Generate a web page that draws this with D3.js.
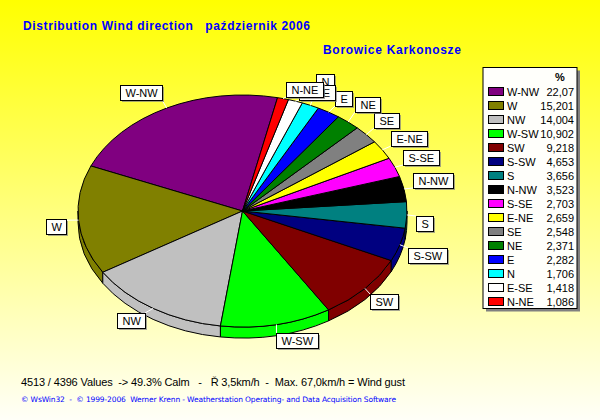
<!DOCTYPE html>
<html><head><meta charset="utf-8">
<script src="https://cdn.jsdelivr.net/npm/d3@7"></script>
<style>html,body{margin:0;padding:0;background:#fff}svg{display:block}text{white-space:pre}</style>
</head><body><svg id="c" width="600" height="420"></svg>
<script>
const categories=["W-NW","W","NW","W-SW","SW","S-SW","S","N-NW","S-SE","E-NE","SE","NE","E","N","E-SE","N-NE"];
const values=[22.07,15.201,14.004,10.902,9.218,4.653,3.656,3.523,2.703,2.659,2.548,2.371,2.282,1.706,1.418,1.086];
const valueLabels=["22,07","15,201","14,004","10,902","9,218","4,653","3,656","3,523","2,703","2,659","2,548","2,371","2,282","1,706","1,418","1,086"];
const colors=["#800080","#808000","#c0c0c0","#00ff00","#800000","#000080","#008080","#000000","#ff00ff","#ffff00","#808080","#008000","#0000ff","#00ffff","#ffffff","#ff0000"];
// label box offset from the slice's rim point
const labelDx=[-47,-33,-36,0,5,8,9,9,8,9,8,7,6,5.5,3.5,3];
const labelDy=[-23,-1,5,8,6,3,1,-16,-17,-19,-22,-25,-21,-31,-16,-16.6];

const svg=d3.select("#c");
const defs=svg.append("defs");
const grad=defs.append("linearGradient").attr("id","bg").attr("x1",0).attr("y1",0).attr("x2",0).attr("y2",1);
grad.append("stop").attr("offset","0").attr("stop-color","#ffff00");
grad.append("stop").attr("offset","1").attr("stop-color","#fffff8");
svg.append("rect").attr("width",600).attr("height",420).attr("fill","url(#bg)");

const F="'Liberation Sans',Arial,sans-serif";
svg.append("text").attr("x",23).attr("y",30).attr("font-family",F).attr("font-weight","bold").attr("font-size",12).attr("fill","#0000ff").attr("textLength",287).text("Distribution Wind direction   październik 2006");
svg.append("text").attr("x",323).attr("y",54).attr("font-family",F).attr("font-weight","bold").attr("font-size",12).attr("fill","#0000ff").attr("textLength",138).text("Borowice Karkonosze");
svg.append("text").attr("x",21).attr("y",386).attr("font-family",F).attr("font-size",11).attr("fill","#000").attr("textLength",384).text("4513 / 4396 Values  -> 49.3% Calm   -   Ř 3,5km/h  -  Max. 67,0km/h = Wind gust");
svg.append("text").attr("x",21).attr("y",402).attr("font-family","'DejaVu Sans',sans-serif").attr("font-size",7.5).attr("fill","#0000ff").attr("textLength",375).text("© WsWin32  -  © 1999-2006  Werner Krenn - Weatherstation Operating- and Data Acquisition Software");

// Pie
const cx=242.5,cy=211,rx=164.5,ry=116,depth=11;
const start=77.7*Math.PI/180;
const pie=d3.pie().value(d=>d).sort(null).startAngle(0).endAngle(2*Math.PI);
const arcs=pie(values).map((a,i)=>({i,a0:start+a.startAngle,a1:start+a.endAngle}));
const ex=t=>cx+rx*Math.cos(t), ey=t=>cy-ry*Math.sin(t);

const g=svg.append("g");
const sideParts=[];
arcs.forEach(d=>{
  [0,2*Math.PI].forEach(k=>{
    const lo=Math.max(d.a0,Math.PI+k), hi=Math.min(d.a1,2*Math.PI+k);
    if(hi>lo) sideParts.push({i:d.i,lo,hi});
  });
});
function rimArc(t0,t1,dy,sweep,move){
  return `${move?"M":"L"}${ex(t0)},${ey(t0)+dy}A${rx},${ry} 0 ${Math.abs(t1-t0)>Math.PI?1:0} ${sweep} ${ex(t1)},${ey(t1)+dy}`;
}
g.selectAll("path.side").data(sideParts).join("path").attr("class","side")
 .attr("d",d=>rimArc(d.lo,d.hi,depth,0,true)+rimArc(d.hi,d.lo,0,1,false)+"Z")
 .attr("fill",d=>colors[d.i]).attr("stroke","#000").attr("stroke-width",1);
g.selectAll("path.top").data(arcs).join("path").attr("class","top")
 .attr("d",d=>`M${cx},${cy}`+rimArc(d.a0,d.a1,0,0,false)+"Z")
 .attr("fill",d=>colors[d.i]).attr("stroke","#000").attr("stroke-width",1);

// Labels
const lab=svg.append("g").attr("font-family",F).attr("font-size",11);
arcs.forEach(d=>{
  const m=(d.a0+d.a1)/2, ax=ex(m), ay=ey(m);
  const bx=Math.round(ax+labelDx[d.i]), by=Math.round(ay+labelDy[d.i]);
  const t=lab.append("g");
  const txt=t.append("text").attr("x",bx+5.5).attr("y",by+12).attr("fill","#000").text(categories[d.i]);
  const w=Math.round(txt.node().getComputedTextLength())+10, h=15;
  const tx=Math.max(bx,Math.min(bx+w,ax)), ty=Math.max(by,Math.min(by+h,ay));
  t.insert("line","text").attr("x1",ax).attr("y1",ay).attr("x2",tx).attr("y2",ty).attr("stroke","#fff").attr("stroke-width",1);
  t.insert("rect","text").attr("x",bx+2).attr("y",by+2).attr("width",w).attr("height",h).attr("fill","#808080").attr("stroke","none").attr("opacity",.7);
  t.insert("rect","text").attr("x",bx+.5).attr("y",by+.5).attr("width",w).attr("height",h).attr("fill","#fffffb").attr("stroke","#000").attr("stroke-width",1);
});

// Legend
const lx=483,ly=67.5,lw=94,lh=241;
svg.append("rect").attr("x",lx+3).attr("y",ly+3).attr("width",lw).attr("height",lh).attr("fill","#808080");
svg.append("rect").attr("x",lx).attr("y",ly).attr("width",lw).attr("height",lh).attr("fill","#fffffb").attr("stroke","#000").attr("stroke-width",1);
svg.append("text").attr("x",555).attr("y",81).attr("font-family",F).attr("font-weight","bold").attr("font-size",11).attr("fill","#000").text("%");
const row=d3.scaleBand().domain(categories).range([85,309]);
const leg=svg.append("g").attr("font-family",F).attr("font-size",11);
const rows=leg.selectAll("g").data(categories).join("g").attr("transform",d=>`translate(0,${row(d)+row.bandwidth()/2})`);
rows.append("rect").attr("x",488.5).attr("y",-4.5).attr("width",15).attr("height",8).attr("fill",(d,i)=>colors[i]).attr("stroke","#000").attr("stroke-width",1);
rows.append("text").attr("x",507).attr("y",4).attr("fill","#000").text(d=>d);
rows.append("text").attr("x",574).attr("y",4).attr("text-anchor","end").attr("fill","#000").text((d,i)=>valueLabels[i]);
</script></body></html>
